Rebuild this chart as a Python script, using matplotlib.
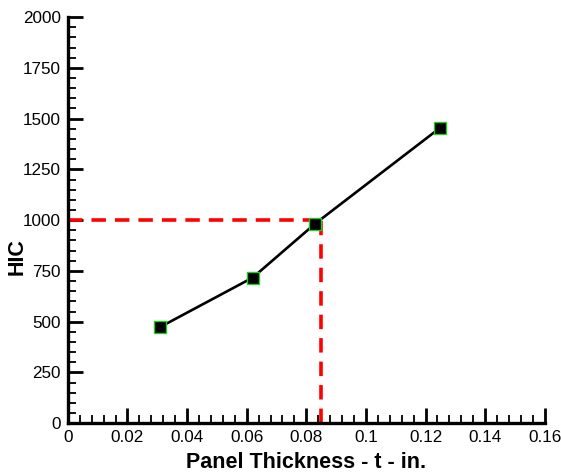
import matplotlib
matplotlib.use("Agg")
import matplotlib.pyplot as plt
from matplotlib.ticker import MultipleLocator

plt.rcParams['font.family'] = ['Liberation Sans', 'DejaVu Sans']

thickness = [0.031, 0.062, 0.083, 0.125]
hic = [474, 717, 983, 1456]
ref_thickness = 0.085
ref_hic = 1000
x_ticks = [0, 0.02, 0.04, 0.06, 0.08, 0.1, 0.12, 0.14, 0.16]
x_tick_labels = ['0', '0.02', '0.04', '0.06', '0.08', '0.1', '0.12', '0.14', '0.16']

fig = plt.figure(figsize=(5.61, 4.75), dpi=100)
ax = fig.add_axes([0.121, 0.109, 0.850, 0.855])

ax.plot([0, ref_thickness], [ref_hic, ref_hic], color='#ff0000', lw=2.6,
        dashes=(4, 2.5), zorder=2)
ax.plot([ref_thickness, ref_thickness], [0, ref_hic], color='#ff0000', lw=2.6,
        dashes=(4, 2.5), zorder=2)
ax.plot(thickness, hic, color='black', lw=1.9, marker='s', markersize=8.5,
        markerfacecolor='black', markeredgecolor='#22cc22', markeredgewidth=1.0,
        zorder=3)

ax.set_xlim(0, 0.16)
ax.set_ylim(0, 2000)
ax.set_xticks(x_ticks)
ax.set_xticklabels(x_tick_labels)
ax.xaxis.set_minor_locator(MultipleLocator(0.004))
ax.yaxis.set_major_locator(MultipleLocator(250))
ax.yaxis.set_minor_locator(MultipleLocator(50))

for s in ['top', 'right']:
    ax.spines[s].set_visible(False)
for s in ['left', 'bottom']:
    ax.spines[s].set_linewidth(2.4)

ax.tick_params(which='major', direction='in', length=11, width=2, labelsize=12.3, pad=5)
ax.tick_params(which='minor', direction='in', length=6, width=1.3)

ax.set_xlabel('Panel Thickness - t - in.', fontsize=15.5, fontweight='bold', labelpad=5)
fig.text(17 / 561, 1 - 257 / 475, 'HIC', fontsize=15.5, fontweight='bold',
         rotation=90, ha='center', va='center')

fig.savefig('out.png', dpi=100)
